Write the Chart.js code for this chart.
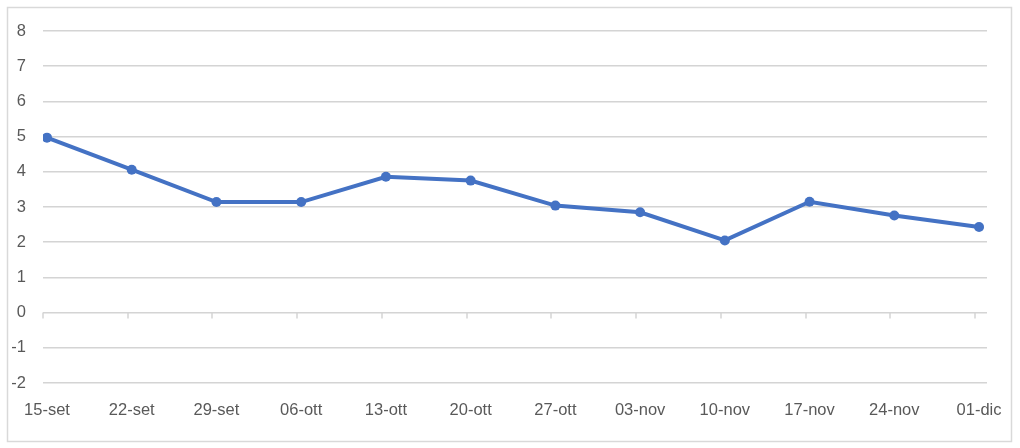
<!DOCTYPE html>
<html>
<head>
<meta charset="utf-8">
<script src="https://cdn.jsdelivr.net/npm/chart.js@4/dist/chart.umd.min.js"></script>
<style>
    html, body { margin: 0; padding: 0; background: #fff; }
    #wrap { width: 1020px; height: 448px; position: relative; }
</style>
</head>
<body>
<div id="wrap"><canvas id="lineChart" width="1020" height="448"></canvas></div>
<script>

// ==========================================================
// Data
// ==========================================================

const weekLabels = [
    "15-set", "22-set", "29-set", "06-ott", "13-ott", "20-ott",
    "27-ott", "03-nov", "10-nov", "17-nov", "24-nov", "01-dic"
];

const weekValues = [
    4.97, 4.06, 3.14, 3.14, 3.86, 3.75,
    3.04, 2.85, 2.05, 3.15, 2.76, 2.43
];

const yTicks = [-2, -1, 0, 1, 2, 3, 4, 5, 6, 7, 8];

// ==========================================================
// Frame + axis tick marks
// ==========================================================

const excelFrame = {

    id: "excelFrame",

    beforeDatasetsDraw(chart){

        const ctx = chart.ctx;
        const xs = chart.scales.x;
        const ys = chart.scales.y;
        const y0 = ys.getPixelForValue(0);

        ctx.save();
        ctx.strokeStyle = "#d4d4d4";
        ctx.lineWidth = 1.5;

        weekLabels.forEach((_, i) => {
            const px = Math.round(xs.getPixelForValue(i)) - 4;
            ctx.beginPath();
            ctx.moveTo(px, y0);
            ctx.lineTo(px, y0 + 6);
            ctx.stroke();
        });

        ctx.restore();

    },

    afterDraw(chart){

        const ctx = chart.ctx;
        ctx.save();
        ctx.strokeStyle = "#d9d9d9";
        ctx.lineWidth = 1.5;
        ctx.strokeRect(7.5, 7.5, 1004, 434);
        ctx.restore();

    }

};

// ==========================================================
// Chart
// ==========================================================

const ctx = document.getElementById("lineChart").getContext("2d");

new Chart(ctx, {

    type: "line",

    data: {
        datasets: [{
            data: weekValues.map((v, i) => ({ x: i, y: v })),
            borderColor: "#4472C4",
            backgroundColor: "#4472C4",
            borderWidth: 4,
            pointRadius: 5,
            pointBorderWidth: 0,
            tension: 0,
            fill: false
        }]
    },

    options: {

        responsive: false,
        animation: false,

        layout: {
            padding: { left: 0, right: 33, top: 31, bottom: 0 }
        },

        plugins: {
            legend: { display: false },
            tooltip: { enabled: false }
        },

        scales: {

            x: {
                type: "linear",
                min: -0.047,
                max: 11.094,
                afterBuildTicks(scale){
                    scale.ticks = weekLabels.map((_, i) => ({ value: i }));
                },
                afterFit(scale){
                    scale.height = 65;
                },
                grid: { display: false, drawTicks: false },
                border: { display: false },
                ticks: {
                    autoSkip: false,
                    maxRotation: 0,
                    padding: 18,
                    color: "#595959",
                    font: { family: "Liberation Sans", size: 16.5 },
                    callback: (v) => weekLabels[v]
                }
            },

            y: {
                min: -2,
                max: 8,
                afterBuildTicks(scale){
                    scale.ticks = yTicks.map(v => ({ value: v }));
                },
                afterFit(scale){
                    scale.width = 43;
                },
                grid: {
                    color: "#d4d4d4",
                    lineWidth: 1.5,
                    drawTicks: false
                },
                border: { display: false },
                ticks: {
                    padding: 17,
                    color: "#595959",
                    font: { family: "Liberation Sans", size: 16.5 }
                }
            }

        }

    },

    plugins: [excelFrame]

});

</script>
</body>
</html>
